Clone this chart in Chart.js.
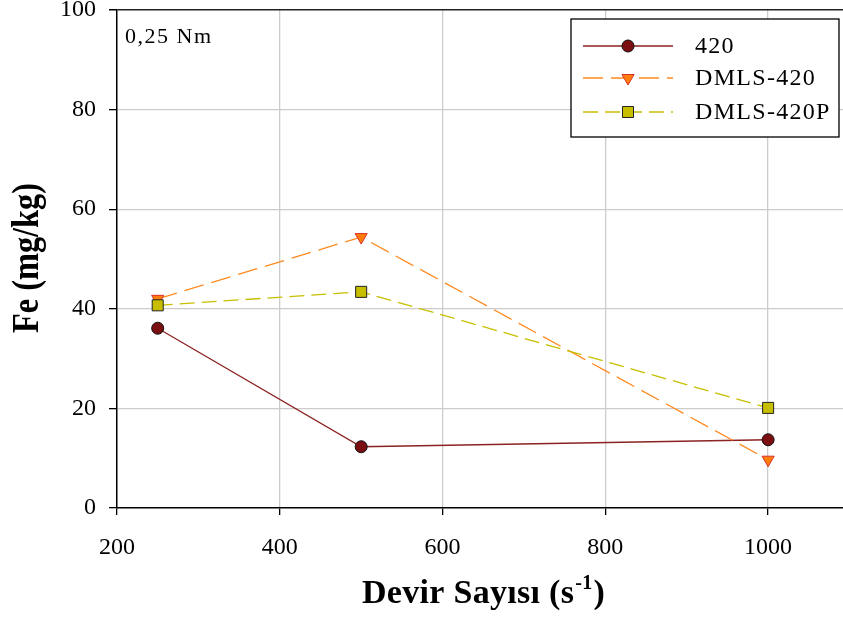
<!DOCTYPE html>
<html>
<head>
<meta charset="utf-8">
<script src="https://cdn.jsdelivr.net/npm/chart.js@4/dist/chart.umd.min.js"></script>
<style>
  html, body { margin: 0; padding: 0; background: #fff; }
  #wrap { width: 843px; height: 618px; }
</style>
</head>
<body>
<div id="wrap"><canvas id="chart" width="843" height="618"></canvas></div>
<script>
// values
const devir = [250, 500, 1000];
const fe420 = [36.1, 12.3, 13.7];
const feDmls420 = [42.0, 54.4, 9.7];
const feDmls420P = [40.7, 43.4, 20.1];
const seriesNames = ['420', 'DMLS-420', 'DMLS-420P'];
const xTickValues = [200, 400, 600, 800, 1000];
const yTickValues = [0, 20, 40, 60, 80, 100];
const noteText = '0,25 Nm';
const yTitle = 'Fe (mg/kg)';
const xTitle = 'Devir Sayısı (s';
const xTitleSup = '-1';

const serif = '"Liberation Serif", "Times New Roman", serif';

function pts(ys) {
    return devir.map((x, i) => ({ x: x, y: ys[i] }));
}

var chartData = {
    datasets: [{
        label: seriesNames[0],
        data: pts(fe420),
        borderColor: '#8c2222',
        borderWidth: 1.3,
        pointStyle: 'circle',
        pointRadius: 6,
        pointBackgroundColor: '#7a0e10',
        pointBorderColor: '#111',
        pointBorderWidth: 1,
        order: 2
    },
    {
        label: seriesNames[1],
        data: pts(feDmls420),
        borderColor: '#ff8a20',
        borderWidth: 1.3,
        borderDash: [20, 8],
        pointStyle: 'triangle',
        pointRotation: 180,
        pointRadius: 7,
        pointBackgroundColor: '#ff7d0a',
        pointBorderColor: '#d8302a',
        pointBorderWidth: 1,
        order: 1
    },
    {
        label: seriesNames[2],
        data: pts(feDmls420P),
        borderColor: '#c8bf00',
        borderWidth: 1.3,
        borderDash: [15, 7],
        pointStyle: 'rect',
        pointRadius: 7.8,
        pointBackgroundColor: '#c8be00',
        pointBorderColor: '#222',
        pointBorderWidth: 1,
        order: 0
    }]
};

// axis titles, note and boxed legend
const decorations = {
    id: 'decorations',
    afterDraw(chart) {
        const ctx = chart.ctx;
        ctx.save();
        ctx.fillStyle = '#000';

        // note in the top-left corner
        ctx.font = '22px ' + serif;
        ctx.letterSpacing = '1.5px';
        ctx.textAlign = 'left';
        ctx.textBaseline = 'alphabetic';
        ctx.fillText(noteText, 125, 43);

        // y title, rotated
        ctx.save();
        ctx.translate(38, 258);
        ctx.rotate(-Math.PI / 2);
        ctx.font = 'bold 38px ' + serif;
        ctx.letterSpacing = '0px';
        const w = ctx.measureText(yTitle).width;
        ctx.scale(150 / w, 1);
        ctx.textAlign = 'center';
        ctx.fillText(yTitle, 0, 0);
        ctx.restore();

        // x title with superscript
        ctx.font = 'bold 34px ' + serif;
        ctx.letterSpacing = '0.3px';
        ctx.textAlign = 'left';
        let x = 362;
        ctx.fillText(xTitle, x, 603);
        x += ctx.measureText(xTitle).width;
        ctx.font = 'bold 20px ' + serif;
        ctx.fillText(xTitleSup, x + 1, 589);
        x += ctx.measureText(xTitleSup).width + 2;
        ctx.font = 'bold 34px ' + serif;
        ctx.fillText(')', x, 603);

        // legend box
        ctx.lineWidth = 1.3;
        ctx.strokeStyle = '#000';
        ctx.fillStyle = '#fff';
        ctx.fillRect(571, 19, 268, 118);
        ctx.strokeRect(571, 19, 268, 118);
        const rows = [46, 78, 112];
        chart.data.datasets.forEach((ds, i) => {
            const y = rows[i];
            ctx.save();
            ctx.strokeStyle = ds.borderColor;
            ctx.lineWidth = ds.borderWidth;
            ctx.setLineDash(ds.borderDash || []);
            ctx.beginPath();
            ctx.moveTo(583, y);
            ctx.lineTo(673, y);
            ctx.stroke();
            ctx.restore();
            ctx.save();
            ctx.fillStyle = ds.pointBackgroundColor;
            ctx.strokeStyle = ds.pointBorderColor;
            ctx.lineWidth = ds.pointBorderWidth;
            Chart.helpers.drawPoint(ctx, {
                pointStyle: ds.pointStyle,
                rotation: ds.pointRotation || 0,
                radius: ds.pointRadius,
                borderWidth: ds.pointBorderWidth
            }, 628, y);
            ctx.restore();
            ctx.fillStyle = '#000';
            ctx.font = '24px ' + serif;
            ctx.letterSpacing = '1.3px';
            ctx.textBaseline = 'middle';
            ctx.fillText(ds.label, 695, y + 1);
        });
        ctx.restore();
    }
};

var chartOptions = {
    animation: false,
    responsive: false,
    showLine: true,
    layout: { autoPadding: false, padding: { top: 10, right: 0, left: 0, bottom: 0 } },
    plugins: {
        legend: { display: false },
        tooltip: { enabled: false }
    },
    elements: { line: { tension: 0 } },
    scales: {
        x: {
            type: 'linear',
            min: 200,
            max: 1092,
            afterBuildTicks: (s) => {
                s.ticks = xTickValues.map(v => ({ value: v }));
            },
            afterFit: (s) => {
                s.height = 110;
                s.paddingLeft = 0;
                s.paddingRight = 0;
            },
            border: { color: '#000', width: 1.5 },
            grid: {
                color: (c) => (c.tick && c.tick.value === 200) ? 'rgba(0,0,0,0)' : '#cccccc',
                lineWidth: 1.3,
                tickColor: '#000',
                tickLength: 7
            },
            ticks: {
                color: '#000',
                font: { family: serif, size: 24 },
                padding: 18,
                maxRotation: 0,
                callback: (v) => String(v)
            }
        },
        y: {
            min: 0,
            max: 100,
            afterBuildTicks: (s) => {
                s.ticks = yTickValues.map(v => ({ value: v }));
            },
            afterFit: (s) => {
                s.width = 117;
                s.paddingTop = 0;
                s.paddingBottom = 0;
            },
            border: { color: '#000', width: 1.5 },
            grid: {
                color: (c) => {
                    if (!c.tick) return '#cccccc';
                    if (c.tick.value === 100) return '#222';
                    if (c.tick.value === 0) return 'rgba(0,0,0,0)';
                    return '#cccccc';
                },
                lineWidth: (c) => (c.tick && c.tick.value === 100) ? 1.5 : 1.3,
                tickColor: '#000',
                tickLength: 8
            },
            ticks: {
                color: '#000',
                font: { family: serif, size: 24 },
                padding: 13,
                callback: (v) => String(v)
            }
        }
    }
};

var chart = new Chart(document.getElementById('chart'), {
    type: 'scatter',
    data: chartData,
    options: chartOptions,
    plugins: [decorations]
});
</script>
</body>
</html>
